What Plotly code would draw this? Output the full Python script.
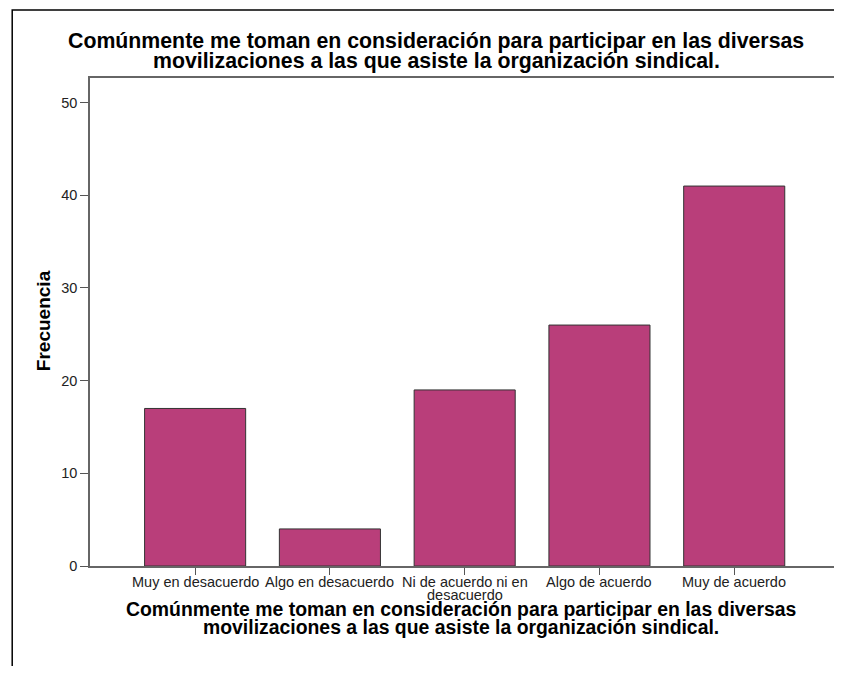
import plotly.graph_objects as go

categories = ["Muy en desacuerdo", "Algo en desacuerdo", "Ni de acuerdo ni en<br>desacuerdo",
              "Algo de acuerdo", "Muy de acuerdo"]
frecuencia = [17, 4, 19, 26, 41]
y_ticks = [0, 10, 20, 30, 40, 50]
title_lines = ["Comúnmente me toman en consideración para participar en las diversas",
               "movilizaciones a las que asiste la organización sindical."]
y_title = "Frecuencia"

# page has an 8px body margin; work in page pixels and convert
OFF = 8
FW, FH = 834, 658
L, R, T, B = 82, 2, 70, 100
pw, ph = FW - L - R, FH - T - B

def px(x):
    return (x - OFF - L) / pw

def py(y):
    return (FH - B - (y - OFF)) / ph

fig = go.Figure(go.Bar(
    x=list(range(len(categories))), y=frecuencia,
    marker=dict(color="#B93E7A", line=dict(color="#333333", width=1)),
    width=0.75,
))

fig.update_layout(
    width=FW, height=FH,
    margin=dict(l=L, r=R, t=T, b=B),
    plot_bgcolor="white", paper_bgcolor="white",
    showlegend=False,
    font=dict(family="Liberation Sans, Arial, sans-serif", color="#222222"),
    xaxis=dict(
        range=[-0.78, 4.77], tickmode="array",
        tickvals=list(range(len(categories))), showticklabels=False,
        ticks="outside", ticklen=7, tickcolor="#555555", tickwidth=1,
        showline=True, linecolor="#666666", linewidth=1.5, mirror=True,
        showgrid=False, zeroline=False,
    ),
    yaxis=dict(
        range=[0, 52.66], tickmode="array", tickvals=y_ticks,
        ticks="outside", ticklen=8, tickcolor="#555555", tickwidth=1,
        showline=True, linecolor="#666666", linewidth=1.5, mirror=True,
        showgrid=False, zeroline=False,
        tickfont=dict(size=14.5, color="#222222"),
    ),
)

# category labels (tight line spacing like the reference)
for i, cat in enumerate(categories):
    for j, line in enumerate(cat.split("<br>")):
        fig.add_annotation(text=line, xref="x", yref="paper", x=i, y=py(582 + 13 * j),
                           xanchor="center", yanchor="middle", showarrow=False,
                           font=dict(size=14.5, color="#222222"))

# Titles
for k, line in enumerate(title_lines):
    fig.add_annotation(text="<b>" + line + "</b>", xref="paper", yref="paper",
                       x=px(437), y=py(41 + 20 * k), xanchor="center", yanchor="middle",
                       showarrow=False, font=dict(size=21.3, color="black"))
    fig.add_annotation(text="<b>" + line + "</b>", xref="paper", yref="paper",
                       x=px(462), y=py(609 + 18 * k), xanchor="center", yanchor="middle",
                       showarrow=False, font=dict(size=19.4, color="black"))
fig.add_annotation(text="<b>" + y_title + "</b>", xref="paper", yref="paper",
                   x=px(43), y=py(321), xanchor="center", yanchor="middle",
                   textangle=-90, showarrow=False, font=dict(size=19, color="black"))

# outer frame
fig.add_shape(type="rect", xref="paper", yref="paper",
              x0=px(12), x1=px(1000), y0=py(800), y1=py(10),
              line=dict(color="black", width=1.5), layer="above")

fig.write_html("out.html")
